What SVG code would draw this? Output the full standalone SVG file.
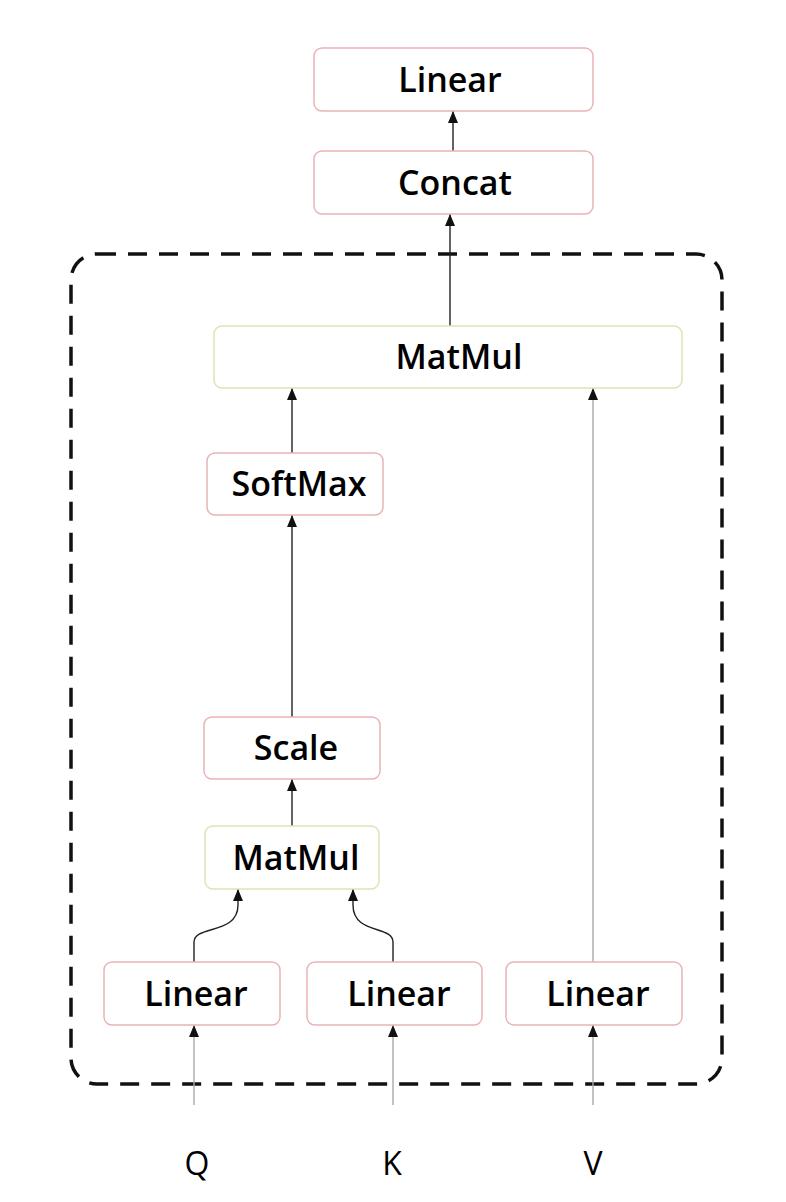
<svg xmlns="http://www.w3.org/2000/svg" width="786" height="1202" viewBox="0 0 786 1202">
<style>
.box{fill:#fff;stroke:#eab3b8;stroke-width:1.5}
.boxg{fill:#fff;stroke:#dfe2b8;stroke-width:1.5}
.lbl{font-family:"Open Sans","Noto Sans",sans-serif;font-size:34px;font-weight:600;fill:#000;text-anchor:middle}
.io{font-family:"Open Sans","Noto Sans",sans-serif;font-size:32px;font-weight:normal;fill:#000;text-anchor:middle}
.edge{fill:none;stroke:#222;stroke-width:1.4}
.edgeg{fill:none;stroke:#aaa;stroke-width:1.4}
</style>
<defs>
<marker id="ah" viewBox="0 0 12 10" refX="12" refY="5" markerWidth="12" markerHeight="10" markerUnits="userSpaceOnUse" orient="auto">
<path d="M0,0 L12,5 L0,10 Z" fill="#111"/>
</marker>
</defs>
<rect x="0" y="0" width="786" height="1202" fill="#fff"/>
<rect id="frame" x="71" y="254" width="651" height="830" rx="26" fill="none" stroke="#111" stroke-width="3.5" stroke-dasharray="19 12"/>
<g id="connectors">
<line class="edge" x1="453" y1="151" x2="453" y2="111" marker-end="url(#ah)"/>
<line class="edge" x1="450" y1="326" x2="450" y2="214" marker-end="url(#ah)"/>
<line class="edge" x1="292" y1="453" x2="292" y2="388" marker-end="url(#ah)"/>
<line class="edge" x1="292" y1="717" x2="292" y2="515" marker-end="url(#ah)"/>
<line class="edge" x1="292" y1="826" x2="292" y2="779" marker-end="url(#ah)"/>
<line class="edgeg" x1="593" y1="962" x2="593" y2="388" marker-end="url(#ah)"/>
<path class="edge" d="M194,962 L194,942 C194,925 238,935 238,905 L238,889" marker-end="url(#ah)"/>
<path class="edge" d="M393,962 L393,942 C393,925 353,935 353,905 L353,889" marker-end="url(#ah)"/>
<line class="edgeg" x1="194" y1="1105" x2="194" y2="1025" marker-end="url(#ah)"/>
<line class="edgeg" x1="393" y1="1105" x2="393" y2="1025" marker-end="url(#ah)"/>
<line class="edgeg" x1="593" y1="1105" x2="593" y2="1025" marker-end="url(#ah)"/>
</g>
<g id="linear_out"><rect class="box" x="314" y="48" width="279" height="63" rx="8"/><text class="lbl" x="450" y="92">Linear</text></g>
<g id="concat"><rect class="box" x="314" y="151" width="279" height="63" rx="8"/><text class="lbl" x="455" y="195">Concat</text></g>
<g id="matmul_top"><rect class="boxg" x="214" y="326" width="468" height="62" rx="8"/><text class="lbl" x="459" y="369">MatMul</text></g>
<g id="softmax"><rect class="box" x="207" y="453" width="176" height="62" rx="8"/><text class="lbl" x="299" y="496">SoftMax</text></g>
<g id="scale"><rect class="box" x="204" y="717" width="176" height="62" rx="8"/><text class="lbl" x="296" y="760">Scale</text></g>
<g id="matmul_low"><rect class="boxg" x="205" y="826" width="174" height="63" rx="8"/><text class="lbl" x="296" y="870">MatMul</text></g>
<g id="linear_q"><rect class="box" x="104" y="962" width="176" height="63" rx="8"/><text class="lbl" x="196" y="1006">Linear</text></g>
<g id="linear_k"><rect class="box" x="307" y="962" width="175" height="63" rx="8"/><text class="lbl" x="399" y="1006">Linear</text></g>
<g id="linear_v"><rect class="box" x="506" y="962" width="176" height="63" rx="8"/><text class="lbl" x="598" y="1006">Linear</text></g>
<g id="in_q"><text class="io" x="197" y="1175">Q</text></g>
<g id="in_k"><text class="io" x="392" y="1175">K</text></g>
<g id="in_v"><text class="io" x="593" y="1175">V</text></g>
</svg>
